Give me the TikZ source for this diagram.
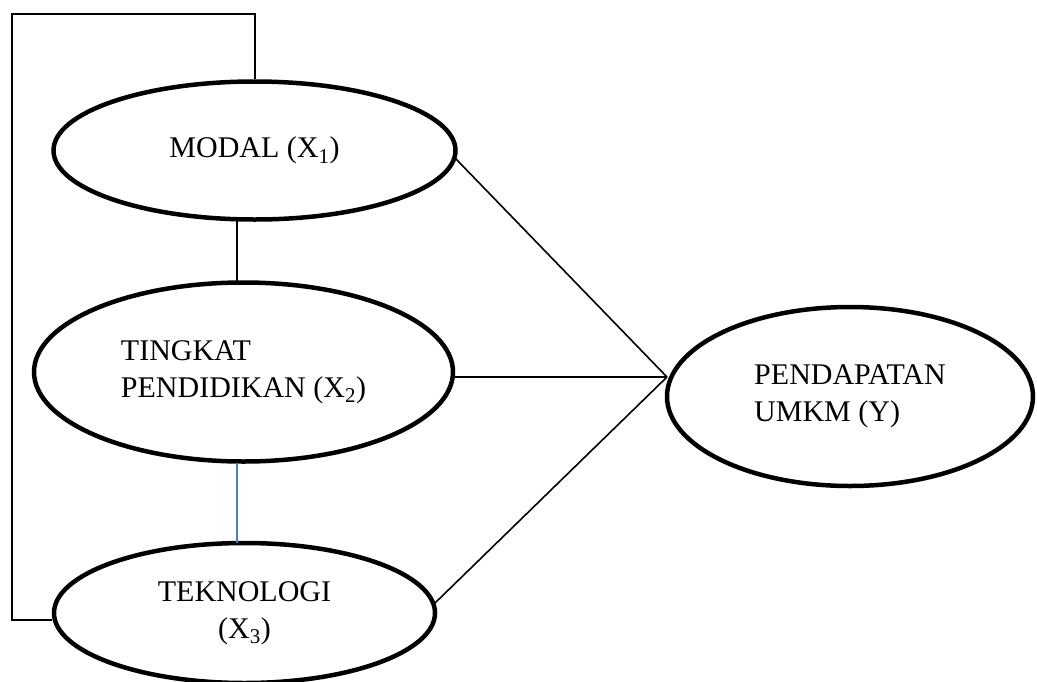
\documentclass[tikz,border=0pt]{standalone}
\usepackage{fontspec}
\setmainfont{Liberation Serif}
\usetikzlibrary{shapes.geometric}
\tikzset{
  var/.style={draw=black, line width=4.5pt, ellipse, inner sep=0pt, align=left,
    font=\fontsize{30}{37}\selectfont},
  link/.style={draw=black, line width=1.6pt},
  bluelink/.style={draw=linkblue, line width=1.8pt},
}
\definecolor{linkblue}{HTML}{4A7EC0}
\begin{document}
\begin{tikzpicture}[x=1pt, y=-1pt]
\useasboundingbox (0,0) rectangle (1037,681);
\node[var, minimum width=402pt, minimum height=138pt] (modal) at (254.5,150.5) {MODAL (X\textsubscript{1})};
\node[var, minimum width=419pt, minimum height=179pt] (tingkat) at (243.5,372) {TINGKAT\\PENDIDIKAN (X\textsubscript{2})};
\node[var, minimum width=381pt, minimum height=140pt, align=center] (tek) at (244.5,613) {TEKNOLOGI\\(X\textsubscript{3})};
\node[var, minimum width=366pt, minimum height=179pt] (y) at (850,396.5) {PENDAPATAN\\UMKM (Y)};
\coordinate (j) at (667,377);
\coordinate (lt) at (255,14);
\coordinate (ll) at (12,14);
\coordinate (lb) at (12,620);
\draw[link] (modal.north -| lt) -- (lt) -- (ll) -- (lb) -- (lb -| tek.west);
\draw[link] (237,221) -- (237,281);
\draw[bluelink] (237,463) -- (237,543);
\draw[link] (455,158) -- (j);
\draw[link] (tingkat.east |- j) -- (j);
\draw[link] (435,603) -- (j);
\end{tikzpicture}
\end{document}
